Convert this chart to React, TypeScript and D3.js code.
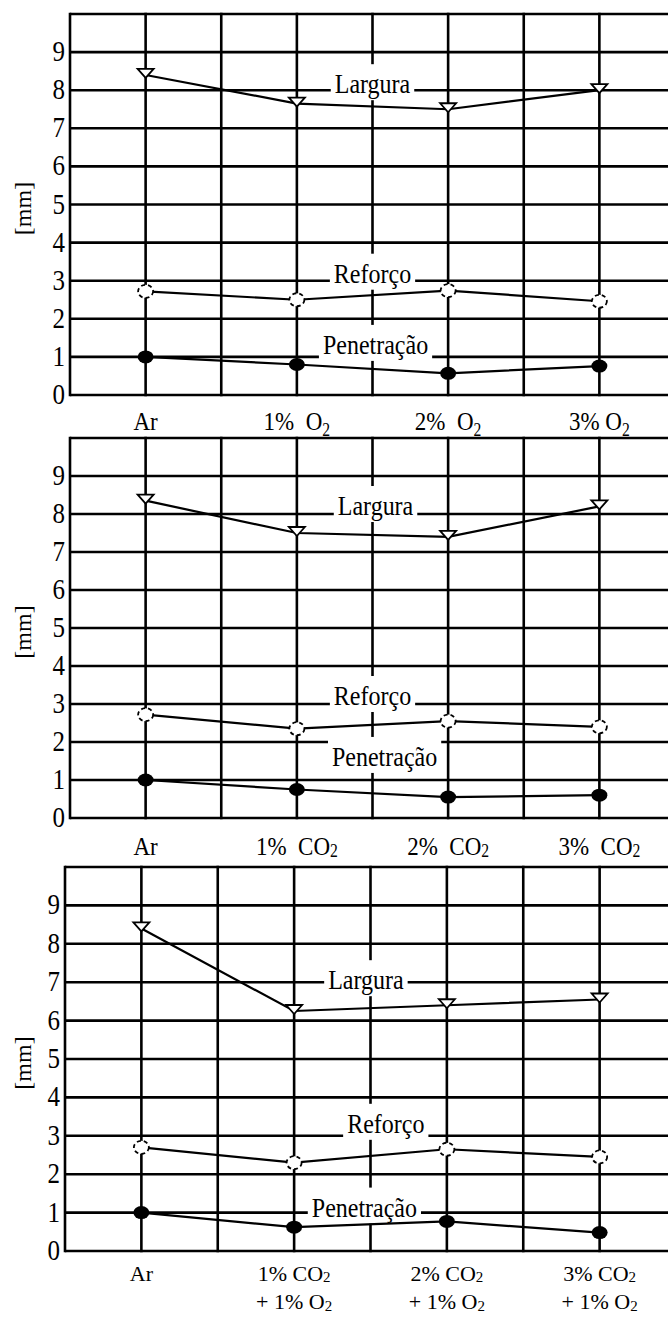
import React, { useEffect, useRef } from 'react';
import * as d3 from 'd3';

// values (mm)
const seriesNames = ['Largura', 'Reforço', 'Penetração'];
const yTicks = [0, 1, 2, 3, 4, 5, 6, 7, 8, 9];

const catsO2 = ['Ar', '1%  O_2', '2%  O_2', '3% O_2'];
const largO2 = [8.4, 7.65, 7.5, 8.0];
const refO2 = [2.72, 2.5, 2.74, 2.46];
const penO2 = [1.0, 0.8, 0.57, 0.76];

const catsCO2 = ['Ar', '1%  CO_2', '2%  CO_2', '3%  CO_2'];
const largCO2 = [8.35, 7.5, 7.4, 8.2];
const refCO2 = [2.72, 2.35, 2.55, 2.4];
const penCO2 = [1.0, 0.75, 0.55, 0.6];

const catsMix = ['Ar', '1% CO_2\n+ 1% O_2', '2% CO_2\n+ 1% O_2', '3% CO_2\n+ 1% O_2'];
const largMix = [8.4, 6.25, 6.4, 6.55];
const refMix = [2.7, 2.3, 2.65, 2.45];
const penMix = [1.0, 0.62, 0.77, 0.48];

const W = 668;
const H = 1321;
const FONT = "'Liberation Serif', 'Times New Roman', Times, 'DejaVu Serif', serif";
const STRETCH = 1.14; // reference text is a bit taller than wide

// layout of the three stacked panels
const panels = [
  {
    top: 14, bottom: 395, left: 70, right: 675,
    cats: catsO2, data: [largO2, refO2, penO2],
    // [category index, value, baseline offset]
    labels: [[1.5, 8, 3], [1.5, 3, 2], [1.52, 1, -3]],
    catDy: 35, subDy: 5, catSize: 23, catStretch: STRETCH,
  },
  {
    top: 438, bottom: 818, left: 70, right: 675,
    cats: catsCO2, data: [largCO2, refCO2, penCO2],
    labels: [[1.52, 8, 1], [1.5, 3, 1], [1.58, 1.37, 0]],
    catDy: 37, subDy: 2, catSize: 23, catStretch: STRETCH,
  },
  {
    top: 867, bottom: 1251, left: 65, right: 676,
    cats: catsMix, data: [largMix, refMix, penMix],
    labels: [[1.47, 7, 7], [1.6, 3, -3], [1.46, 1, 4]],
    catDy: 30, subDy: 1, catSize: 22, catStretch: 1,
  },
];

// text placed at (x, y) and stretched vertically around its baseline
function addText(parent, x, y, size, anchor = 'middle', stretch = STRETCH) {
  return parent.append('text')
    .attr('transform', `translate(${x},${y}) scale(1,${stretch})`)
    .attr('text-anchor', anchor)
    .attr('font-family', FONT)
    .attr('font-size', size);
}

function addRichText(sel, str, subDy) {
  const parts = str.split('_');
  sel.append('tspan').text(parts[0]);
  if (parts.length > 1) {
    sel.append('tspan')
      .attr('font-size', '0.68em')
      .attr('dy', subDy)
      .text(parts[1]);
  }
}

function App() {
  const ref = useRef(null);

  useEffect(() => {
    const svg = d3.select(ref.current);
    svg.selectAll('*').remove();

    panels.forEach((p) => {
      const x = d3.scaleLinear().domain([-0.5, 3.5]).range([p.left, p.right]);
      const y = d3.scaleLinear().domain([0, 10]).range([p.bottom, p.top]);
      const g = svg.append('g');

      // grid: horizontal lines 0..10, vertical lines every half category
      const hLines = d3.range(0, 11);
      g.selectAll('line.h').data(hLines).enter().append('line')
        .attr('x1', p.left).attr('x2', W + 10)
        .attr('y1', (d) => y(d)).attr('y2', (d) => y(d))
        .attr('stroke', '#000').attr('stroke-width', 2.6);
      const vLines = d3.range(-0.5, 3.6, 0.5);
      g.selectAll('line.v').data(vLines).enter().append('line')
        .attr('x1', (d) => x(d)).attr('x2', (d) => x(d))
        .attr('y1', y(10) - 1.3).attr('y2', y(0) + 1.3)
        .attr('stroke', '#000').attr('stroke-width', 2.6);

      // y tick labels
      yTicks.forEach((d) => {
        addText(g, p.left - 5, y(d) + 9, 25, 'end').text(d);
      });

      // unit label
      g.append('text')
        .attr('transform', `translate(31,${(p.top + p.bottom) / 2 + 4}) rotate(-90)`)
        .attr('text-anchor', 'middle')
        .attr('font-family', FONT)
        .attr('font-size', 24)
        .text('[mm]');

      // category labels
      p.cats.forEach((c, i) => {
        c.split('\n').forEach((ln, j) => {
          const t = addText(g, x(i), p.bottom + p.catDy + j * 28, p.catSize, 'middle', p.catStretch)
            .attr('xml:space', 'preserve')
            .style('white-space', 'pre');
          addRichText(t, ln, j === 1 ? 2 : p.subDy);
        });
      });

      // series labels with white knock-out box
      p.labels.forEach((l, k) => {
        const lx = x(l[0]);
        const ly = y(l[1]) + l[2];
        const bg = g.append('rect').attr('fill', '#fff');
        const t = addText(g, lx, ly, 24).text(seriesNames[k]);
        const w = t.node().getComputedTextLength();
        bg.attr('x', lx - w / 2 - 4).attr('width', w + 8)
          .attr('y', ly - 29).attr('height', 36);
      });

      // lines
      const line = d3.line().x((d, i) => x(i)).y((d) => y(d));
      p.data.forEach((s) => {
        g.append('path')
          .attr('d', line(s))
          .attr('fill', 'none')
          .attr('stroke', '#000')
          .attr('stroke-width', 2.2);
      });

      // markers
      g.selectAll('path.tri').data(p.data[0]).enter().append('path')
        .attr('d', (d, i) => {
          const cx = x(i);
          const cy = y(d);
          return `M${cx - 8},${cy - 6}L${cx + 8},${cy - 6}L${cx},${cy + 3}Z`;
        })
        .attr('fill', '#fff')
        .attr('stroke', '#000')
        .attr('stroke-width', 1.8);
      g.selectAll('ellipse.ref').data(p.data[1]).enter().append('ellipse')
        .attr('cx', (d, i) => x(i)).attr('cy', (d) => y(d))
        .attr('rx', 7.5).attr('ry', 6.5)
        .attr('fill', '#fff')
        .attr('stroke', '#000')
        .attr('stroke-width', 1.8)
        .attr('stroke-dasharray', '4,3');
      g.selectAll('ellipse.pen').data(p.data[2]).enter().append('ellipse')
        .attr('cx', (d, i) => x(i)).attr('cy', (d) => y(d))
        .attr('rx', 8).attr('ry', 6.5)
        .attr('fill', '#000');
    });
  }, []);

  return (
    <svg
      ref={ref}
      width={W}
      height={H}
      style={{ position: 'absolute', left: 0, top: 0, background: '#fff' }}
    />
  );
}

export default App;
